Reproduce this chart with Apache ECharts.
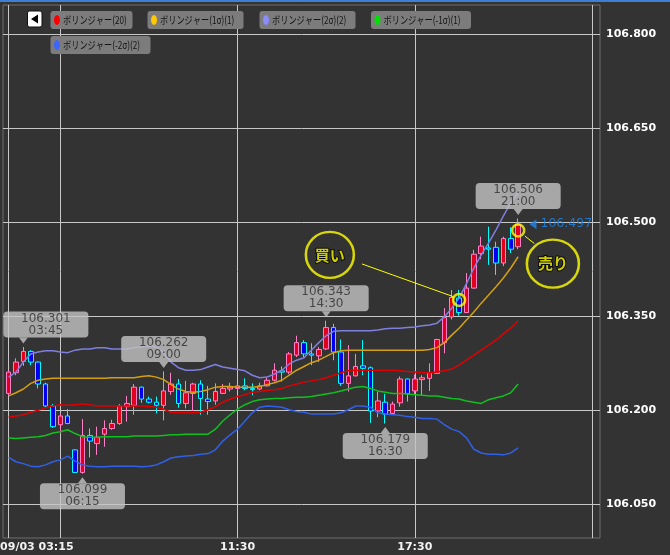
<!DOCTYPE html>
<html><head><meta charset="utf-8">
<script src="https://cdn.jsdelivr.net/npm/echarts@6/dist/echarts.min.js"></script>
<style>html,body{margin:0;padding:0;background:#333333;}#c{width:670px;height:555px;}</style>
</head><body><div id="c"></div>
<script>
// ---- candle data (15-min bars, index 0..69) ----
const openP  = [106.227,106.260,106.278,106.294,106.277,106.242,106.207,106.177,106.191,106.137,
                106.101,106.160,106.147,106.162,106.171,106.179,106.206,106.208,106.237,106.218,
                106.213,106.208,106.230,106.242,106.211,106.227,106.242,106.218,106.215,106.227,
                106.234,106.235,106.239,106.235,106.234,106.239,106.248,106.263,106.261,106.288,
                106.308,106.290,106.287,106.298,106.332,106.293,106.243,106.255,106.271,106.268,
                106.199,106.213,106.195,106.212,106.250,106.231,106.249,106.251,106.259,106.308,
                106.349,106.379,106.356,106.395,106.450,106.459,106.460,106.435,106.474,106.461];
const closeP = [106.261,106.277,106.294,106.277,106.242,106.207,106.174,106.191,106.179,106.101,
                106.160,106.151,106.157,106.171,106.179,106.207,106.211,106.237,106.218,106.213,
                106.208,106.231,106.242,106.211,106.228,106.242,106.219,106.214,106.230,106.235,
                106.237,106.239,106.235,106.233,106.239,106.248,106.264,106.261,106.290,106.308,
                106.290,106.288,106.297,106.332,106.293,106.243,106.255,106.270,106.267,106.199,
                106.215,106.194,106.210,106.250,106.227,106.250,106.252,106.260,106.313,106.348,
                106.380,106.356,106.395,106.449,106.462,106.457,106.435,106.474,106.457,106.497];
const lowP   = [106.224,106.256,106.271,106.272,106.235,106.205,106.172,106.163,106.178,106.100,
                106.099,106.125,106.129,106.142,106.169,106.177,106.182,106.193,106.212,106.211,
                106.195,106.184,106.225,106.204,106.203,106.199,106.193,106.193,106.209,106.226,
                106.230,106.232,106.232,106.224,106.232,106.238,106.246,106.246,106.258,106.285,
                106.285,106.272,106.277,106.296,106.280,106.239,106.230,106.254,106.256,106.180,
                106.189,106.179,106.193,106.206,106.214,106.226,106.224,106.231,106.258,106.291,
                106.345,106.351,106.356,106.394,106.441,106.432,106.416,106.430,106.451,106.457];
const highP  = [106.264,106.283,106.301,106.296,106.278,106.244,106.210,106.195,106.202,106.138,
                106.186,106.171,106.174,106.184,106.185,106.210,106.223,106.242,106.238,106.222,
                106.222,106.262,106.260,106.250,106.247,106.244,106.248,106.239,106.243,106.242,
                106.244,106.243,106.251,106.243,106.244,106.252,106.275,106.270,106.293,106.319,
                106.312,106.307,106.301,106.343,106.338,106.313,106.304,106.290,106.312,106.270,
                106.230,106.226,106.214,106.254,106.251,106.257,106.256,106.275,106.314,106.363,
                106.392,106.392,106.419,106.456,106.477,106.493,106.469,106.477,106.492,106.506];

// ---- Bollinger bands ----
const bbMid = [106.189,106.191,106.193,106.197,106.200,106.204,106.207,106.209,106.208,106.209,
               106.210,106.209,106.207,106.207,106.207,106.207,106.207,106.207,106.207,106.206,
               106.205,106.202,106.197,106.196,106.196,106.196,106.197,106.201,106.206,106.213,
               106.218,106.222,106.225,106.229,106.230,106.232,106.233,106.235,106.239,106.242,
               106.245,106.247,106.249,106.252,106.256,106.260,106.263,106.264,106.264,106.264,
               106.264,106.264,106.264,106.263,106.262,106.261,106.260,106.260,106.261,106.263,
               106.266,106.272,106.280,106.288,106.296,106.304,106.312,106.322,106.331,106.343];
const bbP1  = [106.223,106.228,106.234,106.243,106.248,106.250,106.251,106.251,106.251,106.251,
               106.251,106.251,106.251,106.251,106.252,106.252,106.252,106.252,106.254,106.255,
               106.253,106.249,106.241,106.234,106.230,106.229,106.230,106.233,106.237,106.238,
               106.238,106.237,106.237,106.237,106.238,106.241,106.244,106.248,106.256,106.264,
               106.270,106.276,106.280,106.286,106.292,106.295,106.296,106.296,106.296,106.296,
               106.296,106.296,106.296,106.296,106.296,106.296,106.296,106.297,106.300,106.308,
               106.320,106.331,106.344,106.357,106.371,106.384,106.397,106.411,106.427,106.445];
const bbP2  = [106.253,106.261,106.277,106.290,106.293,106.295,106.295,106.293,106.292,106.296,
               106.298,106.298,106.300,106.300,106.298,106.298,106.298,106.300,106.301,106.303,
               106.301,106.292,106.277,106.268,106.264,106.264,106.265,106.269,106.273,106.269,
               106.267,106.265,106.263,106.256,106.252,106.253,106.258,106.264,106.274,106.280,
               106.284,106.296,106.308,106.319,106.326,106.327,106.327,106.327,106.327,106.327,
               106.328,106.330,106.331,106.331,106.332,106.333,106.335,106.336,106.339,106.349,
               106.363,106.379,106.402,106.427,106.448,106.467,106.488,106.510,106.531,106.547];
const bbM1  = [106.156,106.155,106.156,106.157,106.158,106.160,106.164,106.166,106.169,106.163,
               106.158,106.157,106.157,106.158,106.158,106.158,106.158,106.159,106.159,106.159,
               106.159,106.160,106.161,106.161,106.162,106.162,106.162,106.162,106.170,106.183,
               106.193,106.202,106.209,106.214,106.217,106.218,106.219,106.219,106.220,106.221,
               106.221,106.222,106.224,106.226,106.228,106.231,106.234,106.237,106.238,106.235,
               106.231,106.229,106.227,106.227,106.226,106.225,106.224,106.223,106.223,106.221,
               106.219,106.218,106.215,106.213,106.211,106.217,106.220,106.223,106.228,106.242];
const bbM2  = [106.125,106.118,106.115,106.111,106.110,106.113,106.118,106.121,106.127,106.119,
               106.113,106.111,106.110,106.110,106.111,106.111,106.111,106.111,106.110,106.111,
               106.113,106.118,106.124,106.126,106.127,106.128,106.130,106.131,106.137,106.151,
               106.161,106.170,106.183,106.196,106.205,106.207,106.206,106.205,106.201,106.198,
               106.197,106.194,106.194,106.194,106.194,106.196,106.201,106.207,106.207,106.205,
               106.196,106.194,106.193,106.192,106.190,106.189,106.187,106.187,106.186,106.177,
               106.170,106.166,106.156,106.138,106.132,106.130,106.130,106.129,106.132,106.140];

// ---- axes ----
const yTicks = [106.05, 106.2, 106.35, 106.5, 106.65, 106.8];
const xGridIdx = [0, 7, 31, 55, 79];
const xLabelIdx = [7, 31, 55];
const xLabelText = ['09/03 03:15', '11:30', '17:30'];

// ---- callouts ----
const highCallIdx = [2, 21, 43, 69];
const highCallPrice = [106.301, 106.262, 106.343, 106.506];
const highCallTime = ['03:45', '09:00', '14:30', '21:00'];
const lowCallIdx = [10, 51];
const lowCallPrice = [106.099, 106.179];
const lowCallTime = ['06:15', '16:30'];

// ---- signals ----
const signalIdx = [61, 69];
const signalPrice = [106.376, 106.487];
const signalText = ['買い', '売り'];
const lastPrice = 106.497;

const legendNames = ['ボリンジャー(20)', 'ボリンジャー(1σ)(1)', 'ボリンジャー(2σ)(2)', 'ボリンジャー(-1σ)(1)', 'ボリンジャー(-2σ)(2)'];
const legendMarker = ['#ff0000', '#ffc800', '#8c8cff', '#00e000', '#3c64ff'];
const lineColors = ['#e00000', '#d4a010', '#7f7fe0', '#10c020', '#3060e8'];

const chart = echarts.init(document.getElementById('c'), null, {renderer: 'canvas'});

const candleData = openP.map((o, i) => [i, o, closeP[i], lowP[i], highP[i]]);
const toLine = arr => arr.map((v, i) => [i, v]);

const FONT = 'DejaVu Sans';

function bandSeries(name, arr, color, w) {
  return {
    name, type: 'line', data: toLine(arr), showSymbol: false, symbol: 'none',
    lineStyle: {color, width: w}, z: 4, silent: true, animation: false
  };
}

// legend as drawn boxes
const legendBoxes = [
  {x: 50.5, y: 11, w: 82},
  {x: 147.5, y: 11, w: 96},
  {x: 259.5, y: 11, w: 96},
  {x: 371, y: 11, w: 100},
  {x: 50.5, y: 36, w: 100}
];
const graphics = [
  {type: 'rect', shape: {x: 0, y: 0, width: 670, height: 2}, style: {fill: '#3c7fd4'}, z: 100},
  {type: 'rect', shape: {x: 27.5, y: 11, width: 14.5, height: 16, r: 2}, style: {fill: '#ffffff', stroke: '#111', lineWidth: 1}, z: 100},
  {type: 'polygon', shape: {points: [[31, 19], [38, 14.5], [38, 23.5]]}, style: {fill: '#000'}, z: 101}
];
legendNames.forEach((n, k) => {
  const b = legendBoxes[k];
  graphics.push({type: 'rect', shape: {x: b.x, y: b.y, width: b.w, height: 18, r: 3}, style: {fill: '#7c7c7c'}, z: 100});
  graphics.push({type: 'ellipse', shape: {cx: b.x + 6.5, cy: b.y + 9, rx: 3, ry: 5}, style: {fill: legendMarker[k]}, z: 101});
  graphics.push({type: 'text', x: b.x + 12.5, y: b.y + 9.5, scaleX: 0.78, style: {text: n, fill: '#151515', font: '10.5px "Noto Sans CJK JP"', verticalAlign: 'middle'}, z: 101});
});

const option = {
  backgroundColor: '#333333',
  animation: false,
  grid: {left: 3, right: 70, top: 5, bottom: 17, show: true, borderColor: '#6e6e6e', borderWidth: 1, backgroundColor: 'transparent', outerBoundsMode: 'none', containLabel: false},
  xAxis: {
    type: 'value', min: -0.76, max: 80.08,
    axisLine: {show: false},
    axisTick: {show: false, customValues: xGridIdx},
    splitLine: {show: true, lineStyle: {color: '#c8c8c8', width: 1}},
    axisLabel: {
      customValues: xLabelIdx, margin: 4, color: '#f2f2f2', fontWeight: 'bold', fontSize: 11, fontFamily: FONT,
      formatter: v => { const k = xLabelIdx.indexOf(Math.round(v)); if (k === 0) return '{f|' + xLabelText[k] + '}'; return k >= 0 ? xLabelText[k] : ''; },
      rich: {f: {color: '#f2f2f2', fontWeight: 'bold', fontSize: 11, fontFamily: FONT, padding: [0, 47, 0, 0]}}
    }
  },
  yAxis: {
    type: 'value', position: 'right', min: 105.9964, max: 106.8465, scale: true,
    axisLine: {show: false},
    axisTick: {show: true, length: 4, inside: false, customValues: yTicks, lineStyle: {color: '#c8c8c8'}},
    splitLine: {show: true, lineStyle: {color: '#c8c8c8', width: 1}},
    axisLabel: {customValues: yTicks, margin: 6, color: '#ffffff', fontWeight: 'bold', fontSize: 11, fontFamily: FONT, formatter: v => v.toFixed(3)}
  },
  graphic: graphics,
  series: [
    {
      name: 'candle', type: 'candlestick', data: candleData, encode: {x: 0, y: [1, 2, 3, 4]},
      barWidth: 5, z: 3, silent: true,
      itemStyle: {color: '#e0001e', color0: '#0000f0', borderColor: '#ff80c8', borderColor0: '#00ffff', borderWidth: 1}
    },
    bandSeries(legendNames[4], bbM2, lineColors[4], 1.5),
    bandSeries(legendNames[3], bbM1, lineColors[3], 1.5),
    bandSeries(legendNames[0], bbMid, lineColors[0], 1.5),
    bandSeries(legendNames[1], bbP1, lineColors[1], 1.5),
    bandSeries(legendNames[2], bbP2, lineColors[2], 1.5),
    {
      name: 'highCallout', type: 'scatter', z: 20, silent: true,
      data: highCallIdx.map((x, k) => (k === 0 ? {value: [x, highCallPrice[k]], label: {offset: [22.5, 0]}} : [x, highCallPrice[k]])),
      symbol: 'path://M0,0 L10,0 L5,6 Z', symbolSize: [9, 6], symbolOffset: [0, -6.5],
      itemStyle: {color: '#c4c4c4'},
      label: {show: true, position: 'top', distance: 0,
        formatter: p => highCallPrice[p.dataIndex].toFixed(3) + '\n' + highCallTime[p.dataIndex],
        backgroundColor: '#c4c4c4', borderRadius: 4, width: 85, padding: [1, 0, 1, 0], align: 'center',
        color: '#2e2e2e', fontSize: 12, lineHeight: 12, fontFamily: FONT}
    },
    {
      name: 'lowCallout', type: 'scatter', z: 20, silent: true,
      data: lowCallIdx.map((x, k) => [x, lowCallPrice[k]]),
      symbol: 'path://M5,0 L10,6 L0,6 Z', symbolSize: [9, 6], symbolOffset: [0, 6.5],
      itemStyle: {color: '#c4c4c4'},
      label: {show: true, position: 'bottom', distance: 0,
        formatter: p => lowCallPrice[p.dataIndex].toFixed(3) + '\n' + lowCallTime[p.dataIndex],
        backgroundColor: '#c4c4c4', borderRadius: 4, width: 85, padding: [1, 0, 1, 0], align: 'center',
        color: '#2e2e2e', fontSize: 12, lineHeight: 12, fontFamily: FONT}
    },
    {
      name: 'signalLines', type: 'lines', coordinateSystem: 'cartesian2d', z: 15, silent: true,
      data: [{coords: [[47.85, 106.4335], [60.3, 106.381]]}, {coords: [[69.9, 106.478], [71.2, 106.466]]}],
      lineStyle: {color: '#ffff00', width: 1, opacity: 1}
    },
    {
      name: 'signalRing', type: 'scatter', z: 16, silent: true,
      data: signalIdx.map((x, k) => [x, signalPrice[k]]),
      symbol: 'circle', symbolSize: 12,
      itemStyle: {color: 'rgba(0,0,0,0)', borderColor: '#ffff00', borderWidth: 2.5}
    },
    {
      name: 'signalBubble', type: 'scatter', z: 16, silent: true,
      data: [{value: [43.5, 106.448], symbolSize: [48, 46]}, {value: [73.7, 106.434], symbolSize: [52, 48]}],
      symbol: 'circle',
      itemStyle: {color: '#333333', borderColor: '#ffff00', borderWidth: 2.5},
      label: {show: true, position: 'inside', formatter: p => signalText[p.dataIndex], color: '#ffff00', fontSize: 15, fontWeight: 'bold', fontFamily: 'Noto Sans CJK JP', textBorderColor: '#000', textBorderWidth: 2}
    },
    {
      name: 'lastPrice', type: 'scatter', z: 16, silent: true,
      data: [[71.0, lastPrice]],
      symbol: 'path://M0,5 L9,0 L9,10 Z', symbolSize: [7, 10],
      itemStyle: {color: '#1e88f0'},
      label: {show: true, position: 'right', distance: 4, formatter: p => lastPrice.toFixed(3), color: '#1e88f0', fontSize: 12.5, fontFamily: FONT}
    }
  ]
};
chart.setOption(option);
</script>
</body></html>
